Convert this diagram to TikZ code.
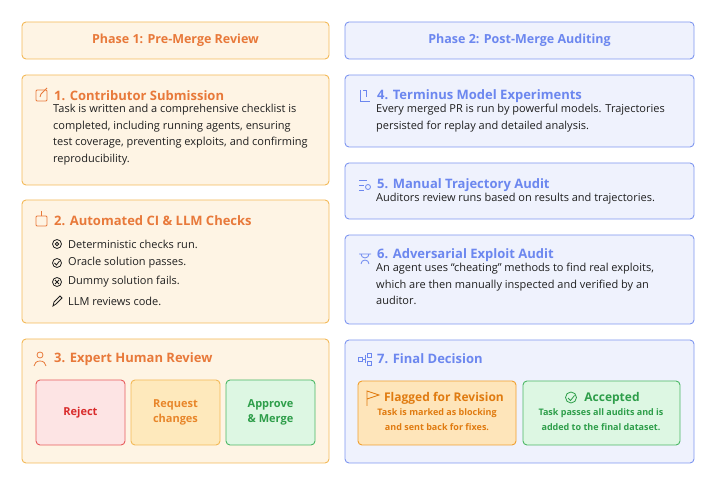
\documentclass[tikz,border=0pt]{standalone}
\usepackage{fontspec}
\setmainfont{Open Sans}
\definecolor{ofill}{HTML}{FEF4E4}
\definecolor{oborder}{HTML}{F3B957}
\definecolor{otitle}{HTML}{E8793A}
\definecolor{bfill}{HTML}{EFF2FD}
\definecolor{bborder}{HTML}{7E96F0}
\definecolor{btitle}{HTML}{6C87EF}
\definecolor{txt}{HTML}{1F1F1F}
\definecolor{rfill}{HTML}{FDE4E4}
\definecolor{rbord}{HTML}{E85C5C}
\definecolor{rtext}{HTML}{D92B2B}
\definecolor{qfill}{HTML}{FEE9BC}
\definecolor{qtext}{HTML}{E8862A}
\definecolor{gfill}{HTML}{DDF7E3}
\definecolor{gbord}{HTML}{4CB866}
\definecolor{gtext}{HTML}{2E9E4A}
\definecolor{ffill}{HTML}{FEE5BA}
\definecolor{fbord}{HTML}{F0A030}
\definecolor{ftext}{HTML}{E07B10}
\begin{document}
\begin{tikzpicture}[x=1pt,y=-1pt,
 obox/.style={draw=oborder,fill=ofill,rounded corners=4pt,line width=0.9pt},
 bbox/.style={draw=bborder,fill=bfill,rounded corners=4pt,line width=0.9pt},
 otit/.style={anchor=west,text=otitle,font=\fontsize{13}{15}\selectfont\bfseries,inner sep=0},
 btit/.style={anchor=west,text=btitle,font=\fontsize{13}{15}\selectfont\bfseries,inner sep=0},
 body/.style={anchor=north west,text=txt,font=\fontsize{11}{16.5}\selectfont,inner sep=0,align=left},
 item/.style={anchor=west,text=txt,font=\fontsize{11}{12}\selectfont,inner sep=0},
 ico/.style={line width=0.8pt}]
\useasboundingbox (0,0) rectangle (716,486);
% headers
\draw[obox] (22,22) rectangle (329,59);
\node[text=otitle,font=\fontsize{12.5}{14}\selectfont\bfseries] (h1) at (175.5,40.5) {Phase 1: Pre-Merge Review};
\draw[bbox] (345,22) rectangle (694,59);
\node[text=btitle,font=\fontsize{12.5}{14}\selectfont\bfseries] (h2) at (519.5,40.5) {Phase 2: Post-Merge Auditing};
% box 1
\draw[obox] (22,75) rectangle (329,185);
\draw[ico,otitle,rounded corners=1pt] (36,90) rectangle (47,101);
\draw[ico,otitle] (40,97)--(41,94)--(47,88);
\node[otit] (t1) at (54,96) {1. Contributor Submission};
\node[body] (b1) at (53,104) {Task is written and a comprehensive checklist is\\completed, including running agents, ensuring\\test coverage, preventing exploits, and confirming\\reproducibility.};
% box 2
\draw[obox] (22,200) rectangle (329,323);
\draw[ico,otitle,rounded corners=1pt] (36,216) rectangle (47,226);
\draw[ico,otitle] (41.5,211)--(41.5,216);
\node[otit] (t2) at (54,221) {2. Automated CI \& LLM Checks};
\draw[ico,txt] (57,244) circle (4.5pt); \draw[ico,txt] (57,244) circle (1.8pt);
\node[item] (i1) at (68,244) {Deterministic checks run.};
\draw[ico,txt] (57,263) circle (4.5pt); \draw[ico,txt] (54.5,263)--(56.5,265)--(59.5,261);
\node[item] (i2) at (68,263) {Oracle solution passes.};
\draw[ico,txt] (57,282) circle (4.5pt); \draw[ico,txt] (55,280)--(59,284) (59,280)--(55,284);
\node[item] (i3) at (68,282) {Dummy solution fails.};
\draw[ico,txt] (53,306)--(54,302)--(60,296)--(62,298)--(56,304)--cycle;
\node[item] (i4) at (68,301) {LLM reviews code.};
% box 3
\draw[obox] (22,339) rectangle (329,463);
\draw[ico,otitle] (40,355) circle (3pt) (34,366) arc (180:360:6 and 5);
\node[otit] (t3) at (54,359) {3. Expert Human Review};
\node[draw=rbord,fill=rfill,rounded corners=4pt,line width=0.9pt,minimum width=89pt,minimum height=65pt,text=rtext,font=\fontsize{11}{15}\selectfont\bfseries] (rej) at (80.5,412.5) {Reject};
\node[draw=oborder,fill=qfill,rounded corners=4pt,line width=0.9pt,minimum width=89pt,minimum height=65pt,text=qtext,font=\fontsize{11}{15}\selectfont\bfseries,align=center] (req) at (175.5,412.5) {Request\\changes};
\node[draw=gbord,fill=gfill,rounded corners=4pt,line width=0.9pt,minimum width=89pt,minimum height=65pt,text=gtext,font=\fontsize{11}{15}\selectfont\bfseries,align=center] (app) at (270.5,412.5) {Approve\\\& Merge};
% box 4
\draw[bbox] (345,75) rectangle (694,147);
\draw[ico,btitle] (360,90)--(360,101)--(370,101) (363,90)--(366,90)--(366,97);
\node[btit] (t4) at (377,96) {4. Terminus Model Experiments};
\node[body] (b4) at (376,104) {Every merged PR is run by powerful models. Trajectories\\persisted for replay and detailed analysis.};
% box 5
\draw[bbox] (345,163) rectangle (694,219);
\draw[ico,btitle] (359,180)--(367,180) (359,185)--(364,185) (359,190)--(364,190); \draw[ico,btitle] (368,187) circle (2.5pt);
\node[btit] (t5) at (377,185) {5. Manual Trajectory Audit};
\node[body] (b5) at (376,193) {Auditors review runs based on results and trajectories.};
% box 6
\draw[bbox] (345,235) rectangle (694,324);
\draw[ico,btitle] (359,254)--(371,254) (361,254) arc (180:360:4 and -4) (361,264) arc (180:360:4 and 4);
\node[btit] (t6) at (377,255) {6. Adversarial Exploit Audit};
\node[body] (b6) at (376,263) {An agent uses “cheating” methods to find real exploits,\\which are then manually inspected and verified by an\\auditor.};
% box 7
\draw[bbox] (345,340) rectangle (694,463);
\draw[ico,btitle] (358,357) rectangle (362,361) (367,353) rectangle (371,357) (367,361) rectangle (371,365) (362,359)--(365,359) (365,355)--(365,363);
\node[btit] (t7) at (377,359) {7. Final Decision};
\draw[fill=ffill,draw=fbord,rounded corners=4pt,line width=0.9pt] (358,381) rectangle (516,445);
\node[text=ftext,font=\fontsize{12}{14}\selectfont\bfseries] (fl) at (444,398) {Flagged for Revision};
\draw[ico,ftext] (367,406)--(367,391)--(379,395)--(367,399);
\node[text=ftext,font=\fontsize{9}{15}\selectfont\bfseries,align=center] (flb) at (437,420) {Task is marked as blocking\\and sent back for fixes.};
\draw[fill=gfill,draw=gbord,rounded corners=4pt,line width=0.9pt] (523,381) rectangle (680,445);
\node[text=gtext,font=\fontsize{12}{14}\selectfont\bfseries] (ac) at (612,398) {Accepted};
\draw[ico,gtext] (571,397.5) circle (5.5pt) (568,398)--(570.5,400.5)--(574.5,395.5);
\node[text=gtext,font=\fontsize{9}{15}\selectfont\bfseries,align=center] (acb) at (601,420) {Task passes all audits and is\\added to the final dataset.};
\end{tikzpicture}
\end{document}
